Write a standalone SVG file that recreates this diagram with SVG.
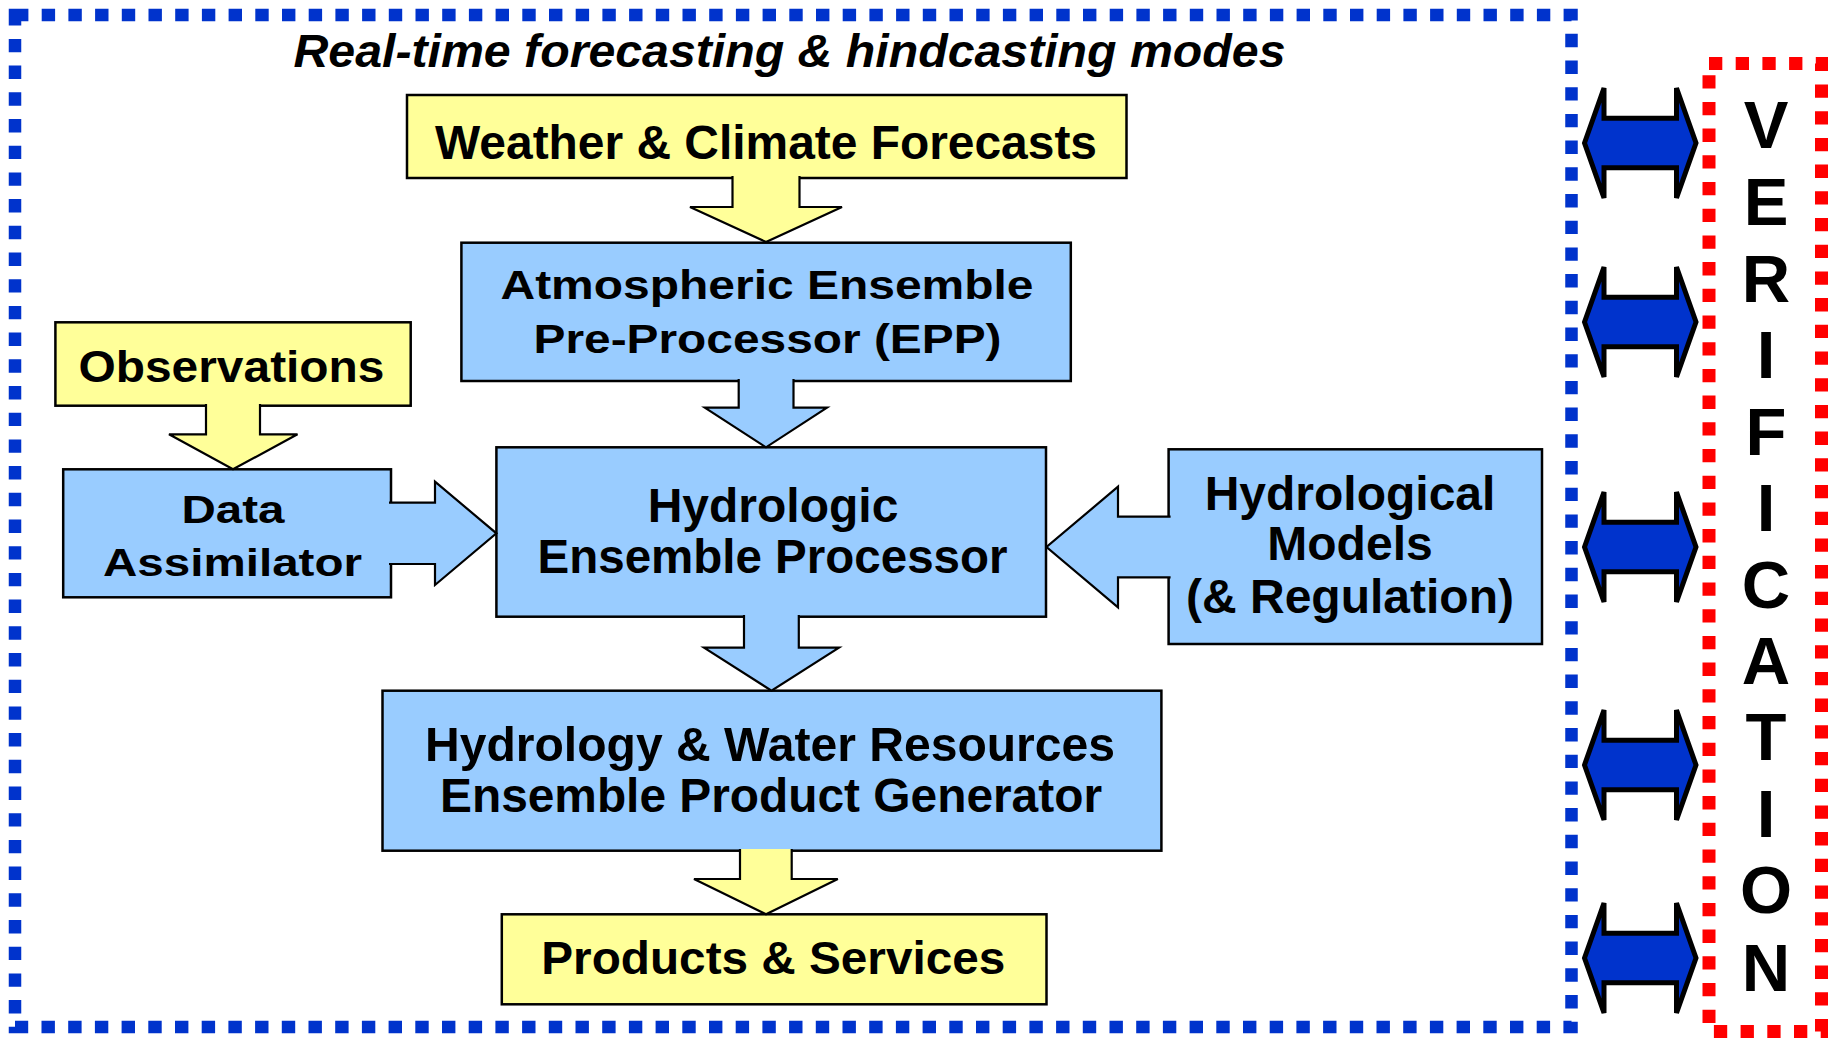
<svg xmlns="http://www.w3.org/2000/svg" width="1834" height="1043" viewBox="0 0 1834 1043">
  <style>
    .t { font-family: "Liberation Sans", Arial, sans-serif; font-weight: bold; fill: #000; text-anchor: middle; }
    .yel { fill: #FFFF99; stroke: #000; stroke-width: 2.5; }
    .blu { fill: #99CCFF; stroke: #000; stroke-width: 2.5; }
    .ya { fill: #FFFF99; stroke: #000; stroke-width: 2.2; stroke-linejoin: miter; }
    .ba { fill: #99CCFF; stroke: #000; stroke-width: 2.2; stroke-linejoin: miter; }
    .dbl { fill: #0033CC; stroke: #000; stroke-width: 5; stroke-linejoin: miter; }
  </style>
  <defs>
    <!-- two-headed exchange arrow, centred on y = 0 -->
    <path id="dblArrow" class="dbl" d="M1584.5,0 L1604,-55 V-24.8 H1676.5 V-55 L1696,0 L1676.5,55 V24.8 H1604 V55 Z"/>
  </defs>
  <rect width="1834" height="1043" fill="#fff"/>

  <!-- forecasting frame -->
  <g id="frame-modes">
    <rect x="15" y="15" width="1556.5" height="1012" fill="none" stroke="#0033CC" stroke-width="12.5" stroke-dasharray="13.4 13.3"/>
    <text class="t" x="789.5" y="66.7" font-size="46.5" font-style="italic" textLength="992" lengthAdjust="spacingAndGlyphs">Real-time forecasting &amp; hindcasting modes</text>
  </g>

  <!-- verification frame -->
  <g id="verification">
    <rect x="1709" y="63.5" width="112.5" height="968" fill="none" stroke="#FF0000" stroke-width="13" stroke-dasharray="13.3 13.4"/>
    <g class="t" font-size="67">
      <text x="1766" y="148">V</text>
      <text x="1766" y="225">E</text>
      <text x="1766" y="302">R</text>
      <text x="1766" y="378">I</text>
      <text x="1766" y="455">F</text>
      <text x="1766" y="531">I</text>
      <text x="1766" y="608">C</text>
      <text x="1766" y="684">A</text>
      <text x="1766" y="760">T</text>
      <text x="1766" y="837">I</text>
      <text x="1766" y="913">O</text>
      <text x="1766" y="991">N</text>
    </g>
  </g>

  <g id="weather">
    <rect class="yel" x="407" y="95" width="719.5" height="83"/>
    <text class="t" x="766" y="159" font-size="47.5" textLength="662" lengthAdjust="spacingAndGlyphs">Weather &amp; Climate Forecasts</text>
  </g>

  <g id="epp">
    <rect class="blu" x="461.4" y="242.7" width="609.4" height="138.3"/>
    <text class="t" x="767" y="299.3" font-size="41" textLength="533" lengthAdjust="spacingAndGlyphs">Atmospheric Ensemble</text>
    <text class="t" x="767.5" y="353.3" font-size="41" textLength="468" lengthAdjust="spacingAndGlyphs">Pre-Processor (EPP)</text>
  </g>

  <g id="observations">
    <rect class="yel" x="55.4" y="322.3" width="355.3" height="83.4"/>
    <text class="t" x="231.5" y="382" font-size="44" textLength="306" lengthAdjust="spacingAndGlyphs">Observations</text>
  </g>

  <g id="data-assimilator">
    <rect class="blu" x="63.2" y="469.3" width="327.8" height="128"/>
    <text class="t" x="233" y="522.7" font-size="38.7" textLength="103" lengthAdjust="spacingAndGlyphs">Data</text>
    <text class="t" x="232.5" y="576" font-size="38.7" textLength="259" lengthAdjust="spacingAndGlyphs">Assimilator</text>
  </g>

  <g id="hep">
    <rect class="blu" x="496.4" y="447.3" width="549.6" height="169.4"/>
    <text class="t" x="773" y="521.7" font-size="48">Hydrologic</text>
    <text class="t" x="772.5" y="573.3" font-size="47.5">Ensemble Processor</text>
  </g>

  <g id="hydro-models">
    <rect class="blu" x="1168.6" y="449.3" width="373.4" height="194.7"/>
    <text class="t" x="1350" y="510" font-size="48">Hydrological</text>
    <text class="t" x="1350" y="560" font-size="48">Models</text>
    <text class="t" x="1350" y="613" font-size="48">(&amp; Regulation)</text>
  </g>

  <g id="product-generator">
    <rect class="blu" x="382.5" y="690.7" width="778.9" height="160"/>
    <text class="t" x="770" y="761" font-size="48" textLength="690" lengthAdjust="spacingAndGlyphs">Hydrology &amp; Water Resources</text>
    <text class="t" x="771" y="812" font-size="48" textLength="662" lengthAdjust="spacingAndGlyphs">Ensemble Product Generator</text>
  </g>

  <g id="products">
    <rect class="yel" x="501.8" y="914.3" width="544.7" height="90"/>
    <text class="t" x="773.3" y="974.3" font-size="45.5" textLength="464" lengthAdjust="spacingAndGlyphs">Products &amp; Services</text>
  </g>

  <!-- block arrows between stages, plus exchanges with verification -->
  <g id="connectors">
    <path class="ya" d="M732.5,176 V207 H690 L766,242 L842,207 H799.5 V176"/>
    <path class="ba" d="M738.7,379 V407.7 H704.8 L766,447.3 L827,407.7 H793.5 V379"/>
    <path class="ya" d="M206,404 V434.3 H169 L233,469.3 L297.5,434.3 H260 V404"/>
    <path class="ba" d="M389,502.7 H435 V481.7 L496.4,533.3 L435,585 V564 H389"/>
    <path class="ba" d="M1170.6,516.7 H1118 V486.7 L1046.5,547 L1118,607.3 V577.3 H1170.6"/>
    <path class="ba" d="M744,615 V647.7 H704 L771.5,690.7 L839,647.7 H798.8 V615"/>
    <path class="ya" d="M740,849 V879 H694 L766,914.3 L837.8,879 H791.7 V849"/>

    <use href="#dblArrow" transform="translate(0,143)"/>
    <use href="#dblArrow" transform="translate(0,322)"/>
    <use href="#dblArrow" transform="translate(0,547)"/>
    <use href="#dblArrow" transform="translate(0,765)"/>
    <use href="#dblArrow" transform="translate(0,958)"/>
  </g>
</svg>
